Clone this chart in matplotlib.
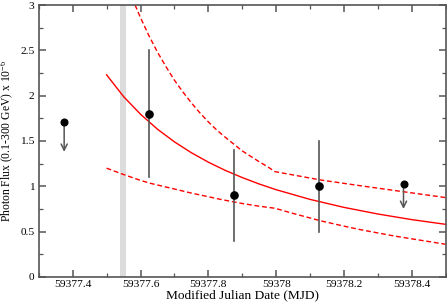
import matplotlib
matplotlib.use('Agg')
import matplotlib.pyplot as plt
from matplotlib.ticker import MultipleLocator
import numpy as np

plt.rcParams['font.family'] = ['Liberation Serif', 'DejaVu Serif']
plt.rcParams['mathtext.default'] = 'regular'

# flux points (MJD, flux, lower, upper)
t_pts = [59377.625, 59377.875, 59378.125]
f_pts = [1.8, 0.9, 1.0]
f_lo = [1.1, 0.4, 0.5]
f_hi = [2.5, 1.4, 1.5]

# upper limits (MJD, value, arrow tip)
t_ul = [59377.375, 59378.375]
f_ul = [1.71, 1.03]
f_ul_tip = [1.38, 0.75]

# model curve and its envelope
t_fit = [59377.50, 59377.55, 59377.60, 59377.65, 59377.70, 59377.75, 59377.80, 59377.85,
         59377.90, 59377.95, 59378.00, 59378.10, 59378.20, 59378.30, 59378.40, 59378.50]
f_fit = [2.23, 1.99, 1.795, 1.63, 1.49, 1.37, 1.266, 1.175,
         1.096, 1.025, 0.962, 0.855, 0.767, 0.694, 0.632, 0.58]

t_up = [59377.584, 59377.60, 59377.625, 59377.65, 59377.675, 59377.70, 59377.725, 59377.75,
        59377.775, 59377.80, 59377.825, 59377.85, 59377.875, 59377.90, 59377.925, 59377.95,
        59377.975, 59377.996, 59378.13, 59378.25, 59378.375, 59378.50]
f_up = [3.0, 2.86, 2.66, 2.48, 2.32, 2.17, 2.04, 1.92,
        1.81, 1.71, 1.62, 1.54, 1.465, 1.39, 1.33, 1.27,
        1.215, 1.162, 1.07, 1.005, 0.94, 0.875]

t_low = [59377.50, 59377.55, 59377.60, 59377.628, 59377.70, 59377.75, 59377.80, 59377.834,
         59377.90, 59377.95, 59377.996, 59378.05, 59378.13, 59378.20, 59378.25, 59378.35,
         59378.40, 59378.50]
f_low = [1.20, 1.13, 1.065, 1.034, 0.97, 0.925, 0.885, 0.857,
         0.81, 0.78, 0.758, 0.70, 0.62, 0.56, 0.52, 0.45,
         0.42, 0.36]

band = (59377.54, 59377.557)

fig = plt.figure(figsize=(4.47, 3.05), dpi=100)
ax = fig.add_axes([0.0866, 0.092, 0.911, 0.8916])

ax.axvspan(band[0], band[1], color='#dcdcdc', lw=0, zorder=0)

ax.plot(t_fit, f_fit, color='red', lw=1.0, zorder=2)
ax.plot(t_up, f_up, color='red', lw=1.0, ls=(0, (3.5, 2)), zorder=2)
ax.plot(t_low, f_low, color='red', lw=1.0, ls=(0, (3.5, 2)), zorder=2)

gray = '#555555'
for t, lo, hi in zip(t_pts, f_lo, f_hi):
    ax.plot([t, t], [lo, hi], color=gray, lw=1.2, zorder=3)
ax.plot(t_pts, f_pts, 'o', color='black', ms=5.2, zorder=4)

for t, f, tip in zip(t_ul, f_ul, f_ul_tip):
    ax.annotate('', xy=(t, tip), xytext=(t, f),
                arrowprops=dict(arrowstyle='->', color=gray, lw=1.1,
                                shrinkA=0, shrinkB=0, mutation_scale=11))
ax.plot(t_ul, f_ul, 'o', color='black', ms=4.8, zorder=4)

ax.set_xlim(59377.3, 59378.5)
ax.set_ylim(0, 3)
ax.xaxis.set_minor_locator(MultipleLocator(0.1))
ax.yaxis.set_minor_locator(MultipleLocator(0.25))
ax.set_xticks([59377.4, 59377.6, 59377.8, 59378.0, 59378.2, 59378.4])
ax.set_xticklabels(['59377.4', '59377.6', '59377.8', '59378', '59378.2', '59378.4'])
ax.set_yticks([0, 0.5, 1, 1.5, 2, 2.5, 3])
ax.set_yticklabels(['0', '0.5', '1', '1.5', '2', '2.5', '3'])

ax.tick_params(which='both', direction='in', top=True, right=True, color='#555555',
               labelsize=8.2)
ax.tick_params(axis='x', pad=2.5)
ax.tick_params(axis='y', pad=3)
ax.tick_params(which='major', length=5, width=1.1)
ax.tick_params(which='minor', length=3, width=0.9)
for s in ax.spines.values():
    s.set_color('#555555')
    s.set_linewidth(1.2)

ax.set_xlabel('Modified Julian Date (MJD)', fontsize=9.6, labelpad=0)
ax.set_ylabel('Photon Flux (0.1-300 GeV) x 10$^{-6}$', fontsize=8.4, labelpad=3)

fig.savefig('out.png', dpi=100)
